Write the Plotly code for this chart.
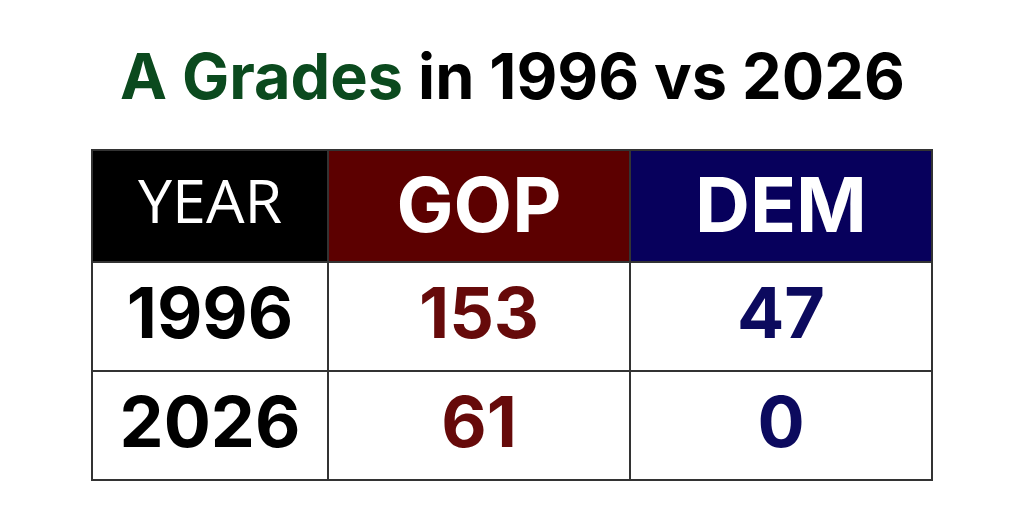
import plotly.graph_objects as go

headers = ["<span>YEAR</span>", "<b>GOP</b>", "<b>DEM</b>"]
years = ["<b>1996</b>", "<b>2026</b>"]
gop = ["<b>153</b>", "<b>61</b>"]
dem = ["<b>47</b>", "<b>0</b>"]

W, H = 1024, 512
fig = go.Figure(go.Table(
    domain=dict(x=[84 / W, 924 / W], y=[0, 1 - 142 / H]),
    columnwidth=[236, 302, 302],
    header=dict(
        values=headers,
        fill_color=["#000000", "#5c0000", "#07005c"],
        line=dict(color="#333333", width=2),
        align="center",
        height=112,
        font=dict(family=["Open Sans", "Inter", "Inter"], size=[61, 76, 76], color="white"),
    ),
    cells=dict(
        values=[years, gop, dem],
        fill_color="white",
        line=dict(color="#333333", width=2),
        align="center",
        height=109,
        font=dict(family="Inter", size=70, color=["#000000", "#660a0a", "#0c0a5e"]),
    ),
))
fig.add_annotation(
    x=0.5 - 8 / W, y=1 - 68 / H, xref="paper", yref="paper", xanchor="center", yanchor="middle",
    showarrow=False,
    text="<b><span style='color:#0b4a1e'>A Grades</span> in 1996 vs 2026</b>",
    font=dict(family="Inter", size=63, color="#000000"),
)
fig.update_layout(width=W, height=H, margin=dict(l=0, r=0, t=0, b=0),
                  paper_bgcolor="white", plot_bgcolor="white")
fig.write_html("out.html")
